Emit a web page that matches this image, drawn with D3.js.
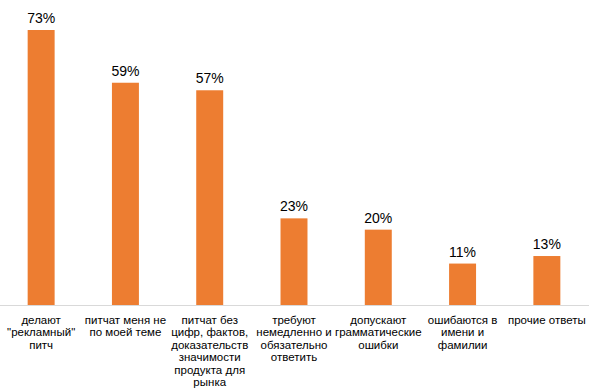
<!DOCTYPE html>
<html>
<head>
<meta charset="utf-8">
<script src="https://cdn.jsdelivr.net/npm/d3@7"></script>
<style>
  body { margin: 0; background: #fff; }
  svg { display: block; font-family: "Liberation Sans", Arial, sans-serif; }
</style>
</head>
<body>
<script>
// data
var categories = ["c1", "c2", "c3", "c4", "c5", "c6", "c7"];
var categoryLines = [
  ["делают", "\"рекламный\"", "питч"],
  ["питчат меня не", "по моей теме"],
  ["питчат без", "цифр, фактов,", "доказательств", "значимости", "продукта для", "рынка"],
  ["требуют", "немедленно и", "обязательно", "ответить"],
  ["допускают", "грамматические", "ошибки"],
  ["ошибаются в", "имени и", "фамилии"],
  ["прочие ответы"]
];
var values = [73, 59, 57, 23, 20, 11, 13];

var width = 591, height = 389;
var baseline = 305, topY = 30;

var svg = d3.select("body").append("svg")
    .attr("width", width)
    .attr("height", height);

var x = d3.scaleBand()
    .domain(categories)
    .range([-1, 589])
    .paddingInner(0.68)
    .paddingOuter(0.34);

var y = d3.scaleLinear()
    .domain([0, d3.max(values)])
    .range([baseline, topY]);

// bars
svg.selectAll("rect.bar")
    .data(values)
  .enter().append("rect")
    .attr("class", "bar")
    .attr("x", function(d, i) { return x(categories[i]); })
    .attr("y", function(d) { return y(d); })
    .attr("width", x.bandwidth())
    .attr("height", function(d) { return baseline - y(d); })
    .attr("fill", "#ED7D31");

// value labels
svg.selectAll("text.val")
    .data(values)
  .enter().append("text")
    .attr("class", "val")
    .attr("x", function(d, i) { return x(categories[i]) + x.bandwidth() / 2; })
    .attr("y", function(d) { return y(d) - 7; })
    .attr("text-anchor", "middle")
    .attr("font-size", 14)
    .attr("fill", "#000")
    .text(function(d) { return d + "%"; });

// x axis
var xAxis = svg.append("g")
    .attr("transform", "translate(0," + baseline + ")")
    .call(d3.axisBottom(x).tickSize(0).tickFormat(""));
xAxis.select(".domain").attr("stroke", "#d9d9d9").attr("d", "M0,0.5H589");

xAxis.selectAll(".tick text").remove();
xAxis.selectAll(".tick").each(function(d, i) {
  var t = d3.select(this).append("text")
      .attr("text-anchor", "middle")
      .attr("font-size", 11.5)
      .attr("fill", "#000")
      .attr("y", 19);
  categoryLines[i].forEach(function(line, j) {
    t.append("tspan")
      .attr("x", 0)
      .attr("dy", j === 0 ? 0 : 12.4)
      .text(line);
  });
});
</script>
</body>
</html>
